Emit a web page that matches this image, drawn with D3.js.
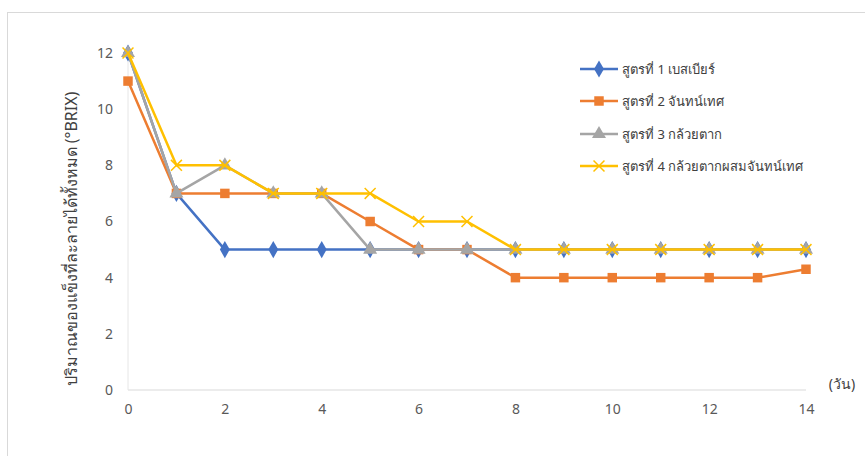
<!DOCTYPE html>
<html><head><meta charset="utf-8">
<script src="https://cdn.jsdelivr.net/npm/d3@7"></script>
<style>
body{margin:0;background:#fff;}
svg text{font-family:Tahoma,"Noto Sans","DejaVu Sans",sans-serif;}
</style></head>
<body><svg id="c" width="865" height="456"></svg>
<script>
const days = [0,1,2,3,4,5,6,7,8,9,10,11,12,13,14];
const seriesNames = ["สูตรที่ 1 เบสเบียร์","สูตรที่ 2 จันทน์เทศ","สูตรที่ 3 กล้วยตาก","สูตรที่ 4 กล้วยตากผสมจันทน์เทศ"];
const s1 = [12,7,5,5,5,5,5,5,5,5,5,5,5,5,5];
const s2 = [11,7,7,7,7,6,5,5,4,4,4,4,4,4,4.3];
const s3 = [12,7,8,7,7,5,5,5,5,5,5,5,5,5,5];
const s4 = [12,8,8,7,7,7,6,6,5,5,5,5,5,5,5];
const yTicks = [0,2,4,6,8,10,12];
const xTicks = [0,2,4,6,8,10,12,14];
const colors = ["#4472C4","#ED7D31","#A5A5A5","#FFC000"];
const symbols = [d3.symbolDiamond, d3.symbolSquare, d3.symbolTriangle, d3.symbolX];
const yLabel = "ปริมาณของแข็งที่ละลายได้ทั้งหมด (°BRIX)";
const xUnit = "(วัน)";

const svg = d3.select("#c");
svg.append("rect").attr("x",7.5).attr("y",12.5).attr("width",880).attr("height",460)
  .attr("fill","#fff").attr("stroke","#d9d9d9");

const x = d3.scaleLinear().domain([0,14]).range([128,806]);
const y = d3.scaleLinear().domain([0,12]).range([390,53]);

svg.append("line").attr("x1",x(0)).attr("x2",x(14)).attr("y1",y(0)).attr("y2",y(0)).attr("stroke","#d9d9d9").attr("stroke-width",1);
svg.append("line").attr("x1",x(0)).attr("x2",x(0)).attr("y1",y(0)).attr("y2",y(12)).attr("stroke","#e6e6e6").attr("stroke-width",1);

const ya = d3.axisLeft(y).tickValues(yTicks).tickSize(0).tickPadding(15);
const gy = svg.append("g").attr("transform",`translate(${x(0)},0)`).call(ya);
gy.select(".domain").remove();
gy.selectAll("text").attr("font-size",14).attr("fill","#595959").style("font-family","Tahoma,'Noto Sans',sans-serif");

const xa = d3.axisBottom(x).tickValues(xTicks).tickSize(0).tickPadding(14);
const gx = svg.append("g").attr("transform",`translate(0,${y(0)})`).call(xa);
gx.select(".domain").remove();
gx.selectAll("text").attr("font-size",14).attr("fill","#595959").style("font-family","Tahoma,'Noto Sans',sans-serif");

svg.append("text").attr("x",842).attr("y",389).attr("text-anchor","middle")
  .attr("font-size",14).attr("fill","#404040").text(xUnit);

svg.append("text").attr("transform","translate(77,239) rotate(-90)").attr("text-anchor","middle")
  .attr("font-size",16).attr("fill","#404040").text(yLabel);

const data = [s1,s2,s3,s4];
const line = d3.line().x((d,i)=>x(days[i])).y(d=>y(d));
const symSize = [85,90,85,80];
data.forEach((s,k)=>{
  const g = svg.append("g");
  g.append("path").datum(s).attr("d",line).attr("fill","none").attr("stroke",colors[k]).attr("stroke-width",2.5).attr("stroke-linejoin","round");
  g.selectAll("path.m").data(s).enter().append("path").attr("class","m")
    .attr("transform",(d,i)=>`translate(${x(days[i])},${y(d)})`)
    .attr("d",d3.symbol().type(symbols[k]).size(symSize[k]))
    .attr("fill",k===3?"none":colors[k])
    .attr("stroke",colors[k]).attr("stroke-width",k===3?1.5:0);
});

const legY = [69,101,134,166];
seriesNames.forEach((n,k)=>{
  const g = svg.append("g").attr("transform",`translate(580,${legY[k]})`);
  g.append("line").attr("x1",0).attr("x2",38).attr("stroke",colors[k]).attr("stroke-width",2.5);
  g.append("path").attr("transform","translate(19,0)").attr("d",d3.symbol().type(symbols[k]).size(symSize[k]))
    .attr("fill",k===3?"none":colors[k]).attr("stroke",colors[k]).attr("stroke-width",k===3?1.5:0);
  g.append("text").attr("x",42).attr("y",5).attr("font-size",13).attr("fill","#404040").text(n);
});
</script></body></html>
